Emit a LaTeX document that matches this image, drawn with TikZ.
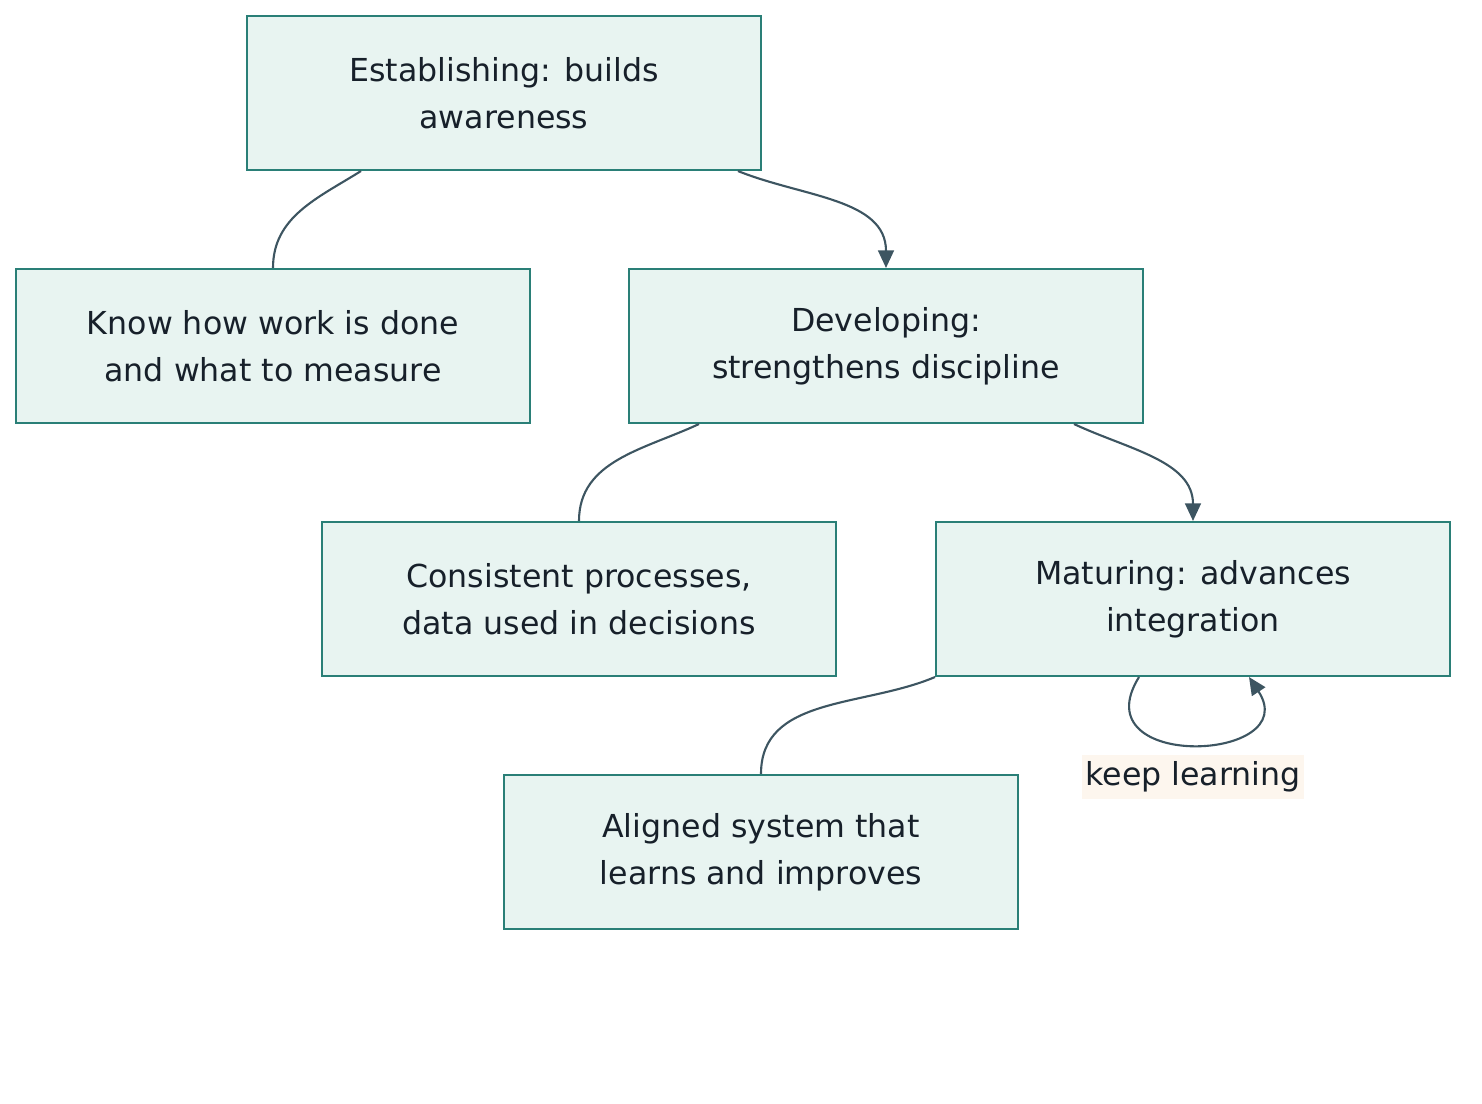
\documentclass[tikz,border=0pt]{standalone}
\usepackage{fontspec}
\setmainfont{DejaVu Sans}
\usetikzlibrary{arrows.meta,calc}
\definecolor{boxfill}{HTML}{E8F4F1}
\definecolor{boxline}{HTML}{2A7F77}
\definecolor{edgeline}{HTML}{3D5561}
\definecolor{tagfill}{HTML}{FDF6EE}
\definecolor{inkcol}{HTML}{17202A}
\begin{document}
\begin{tikzpicture}[x=0.02cm, y=0.02cm,
    stagebox/.style={draw=boxline, line width=1.2pt, fill=boxfill,
      minimum width=10.28cm, minimum height=3.08cm, inner sep=0pt,
      align=center, text=inkcol, font=\fontsize{18}{27}\selectfont},
    tag/.style={fill=tagfill, minimum width=4.44cm, minimum height=0.9cm,
      inner sep=0pt, text=inkcol, font=\fontsize{18}{20}\selectfont},
    link/.style={draw=edgeline, line width=1.2pt},
    arr/.style={link, -{Triangle[length=10pt, width=9pt]}}]
    \useasboundingbox (0,0) rectangle (1482,-1104);
    % stages and what they bring
    \node[stagebox] (est) at (504,-93) {Establishing: builds\\awareness};
    \node[stagebox] (know) at (273,-346) {Know how work is done\\and what to measure};
    \node[stagebox] (dev) at (886,-346) {Developing:\\strengthens discipline};
    \node[stagebox] (cons) at (579,-599) {Consistent processes,\\data used in decisions};
    \node[stagebox] (mat) at (1193,-599) {Maturing: advances\\integration};
    \node[stagebox] (ali) at (761,-852) {Aligned system that\\learns and improves};
    % links
    \draw[link] ($(est.south west)+(115,0)$) to[out=212, in=90] (know.north);
    \draw[arr] ($(est.south east)+(-24,0)$) to[out=-22, in=90] (dev.north);
    \draw[link] ($(dev.south west)+(71,0)$) to[out=205, in=90] (cons.north);
    \draw[arr] ($(dev.south east)+(-70,0)$) to[out=-25, in=90] (mat.north);
    \draw[link] (mat.south west) to[out=203, in=90] (ali.north);
    % loop back
    \draw[arr] ($(mat.south west)+(204,0)$) .. controls ($(mat.south west)+(145,-95)$)
      and ($(mat.south west)+(370,-85)$) .. ($(mat.south west)+(314,0)$);
    \node[tag] (keep) at (1193,-777) {keep learning};
\end{tikzpicture}
\end{document}
